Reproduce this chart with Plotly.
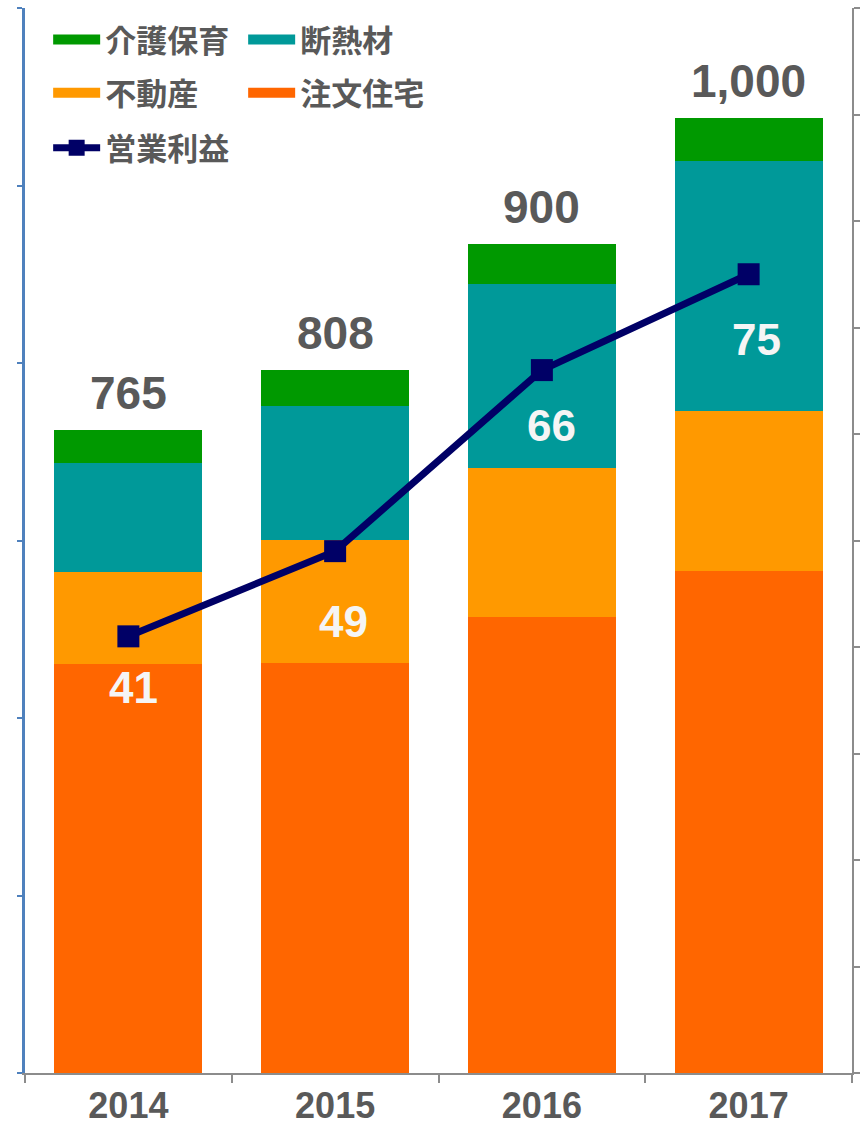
import plotly.graph_objects as go

years = ["2014", "2015", "2016", "2017"]
chumon = [461, 462, 514, 566]      # 注文住宅
fudosan = [104, 139, 168, 180]     # 不動産
dannetsu = [122, 150, 207, 282]    # 断熱材
kaigo = [37, 41, 45, 48]           # 介護保育
total_labels = ["765", "808", "900", "1,000"]
profit = [41, 49, 66, 75]          # 営業利益

# label placement (style only)
profit_label_dy = [-51, -70, -55, -65]
profit_label_dx = [5, 8, 10, 8]

GRAY = "#595959"
NUM_FONT = "Arial, Liberation Sans, sans-serif"
JP_FONT = "Noto Sans CJK JP"

series = [  # name, values, colour, legend, rank
    ("注文住宅", chumon, "#FF6600", "legend2", 2),
    ("不動産", fudosan, "#FF9900", "legend2", 1),
    ("断熱材", dannetsu, "#009999", "legend", 2),
    ("介護保育", kaigo, "#009900", "legend", 1),
]

fig = go.Figure()
for name, vals, col, leg, rank in series:
    fig.add_trace(go.Bar(x=years, y=vals, name=name, marker=dict(color=col, line=dict(width=0)),
                         showlegend=False, legendgroup=name))
    # wide legend swatch for the bar series
    fig.add_trace(go.Scatter(x=[None], y=[None], name=name, mode="lines", legendgroup=name,
                             line=dict(color=col, width=15), legend=leg, legendrank=rank,
                             hoverinfo="skip"))
fig.add_trace(go.Scatter(x=years, y=profit, name="営業利益", yaxis="y2", mode="lines+markers",
                         line=dict(color="#000066", width=7),
                         marker=dict(symbol="square", size=22, color="#000066"),
                         legend="legend3"))

totals = [a + b + c + d for a, b, c, d in zip(chumon, fudosan, dannetsu, kaigo)]
for i, (t, lab) in enumerate(zip(totals, total_labels)):
    fig.add_annotation(x=i, y=t, text=lab, showarrow=False, yanchor="bottom", yshift=9,
                       font=dict(family=NUM_FONT, size=46, color=GRAY, weight="bold"))
for i, p in enumerate(profit):
    fig.add_annotation(x=i, y=p, yref="y2", text=str(p), showarrow=False, yanchor="middle",
                       yshift=profit_label_dy[i], xshift=profit_label_dx[i],
                       font=dict(family=NUM_FONT, size=44, color="#F5F5F5", weight="bold"))

leg_common = dict(orientation="h", xanchor="left", yanchor="middle", entrywidth=133,
                  entrywidthmode="pixels", traceorder="normal", bgcolor="rgba(0,0,0,0)",
                  itemwidth=47,
                  font=dict(family=JP_FONT, size=31, color=GRAY, weight="bold"),
                  itemclick=False, itemdoubleclick=False)
fig.update_layout(
    width=861, height=1126,
    margin=dict(l=25, r=9, t=8, b=53, autoexpand=False),
    paper_bgcolor="white", plot_bgcolor="white",
    barmode="stack", bargap=0.285,
    showlegend=True,
    legend=dict(x=0.028, y=0.970, **leg_common),
    legend2=dict(x=0.028, y=0.920, **leg_common),
    legend3=dict(x=0.028, y=0.8685, **leg_common),
    xaxis=dict(type="category", range=[-0.5, 3.5], showline=True, linecolor="#8C8C8C", linewidth=2,
               ticks="outside", tickson="boundaries", ticklen=8, tickcolor="#8C8C8C", tickwidth=1.5,
               showgrid=False, tickangle=0, automargin=False,
               tickfont=dict(family=NUM_FONT, size=36, color=GRAY, weight="bold")),
    yaxis=dict(range=[0, 1200], dtick=200, showticklabels=False, ticks="outside", ticklen=5,
               tickcolor="#4F81BD", tickwidth=2, showline=True, linecolor="#4F81BD", linewidth=2.5,
               showgrid=False, zeroline=False, automargin=False),
    yaxis2=dict(range=[0, 100], dtick=10, overlaying="y", side="right", showticklabels=False,
                ticks="outside", ticklen=6, tickcolor="#8C8C8C", tickwidth=1.5, showline=True,
                linecolor="#8C8C8C", linewidth=2, showgrid=False, zeroline=False, automargin=False),
)

fig.write_html("out.html")
